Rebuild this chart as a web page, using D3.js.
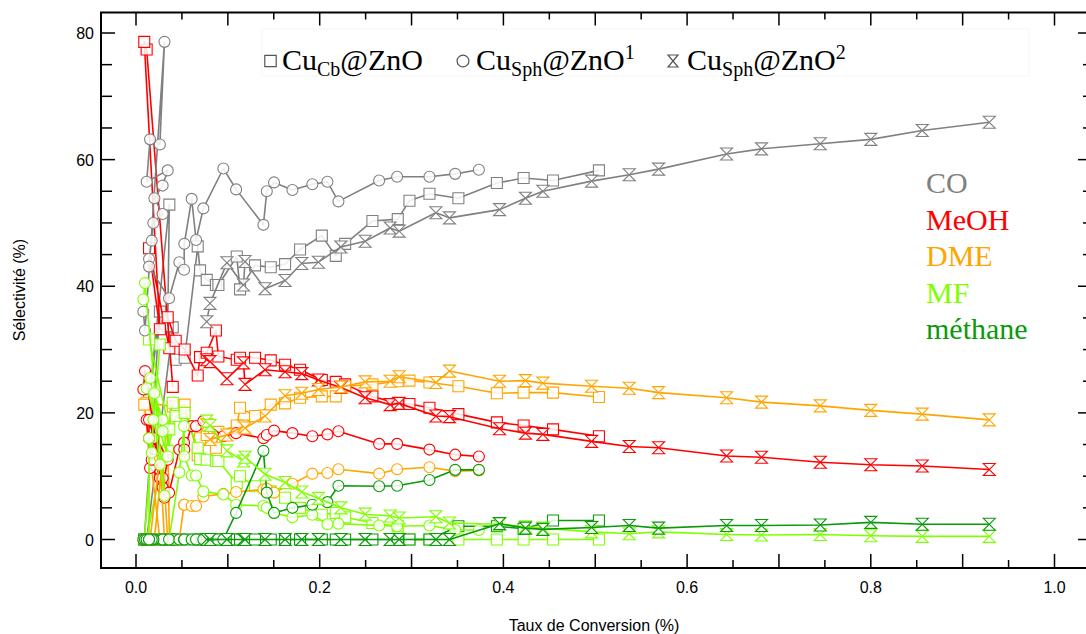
<!DOCTYPE html>
<html><head><meta charset="utf-8">
<script src="https://cdn.jsdelivr.net/npm/d3@7"></script>
<style>body{margin:0;background:#fff}svg{display:block}</style>
</head><body>
<svg id="c" width="1086" height="634"></svg>
<script>
// ---------- data ----------
const xTickValues = [0, 0.2, 0.4, 0.6, 0.8, 1.0];
const xTickLabels = ["0.0", "0.2", "0.4", "0.6", "0.8", "1.0"];
const yTickValues = [0, 20, 40, 60, 80];
const yTickLabels = ["0", "20", "40", "60", "80"];
const products = ["CO", "MeOH", "DME", "MF", "méthane"];
const catalysts = ["Cu_Cb@ZnO", "Cu_Sph@ZnO1", "Cu_Sph@ZnO2"];

// Cu_Cb@ZnO (squares)
const cbX    = [0.0400,0.0116,0.0090,0.0260,0.0142,0.0363,0.0345,0.0432,0.0530,0.0672,0.0697,0.0770,0.0870,0.0897,0.1097,0.1133,0.1296,0.1467,0.1623,0.1786,0.2023,0.2175,0.2277,0.2574,0.2850,0.2977,0.3195,0.3510,0.3929,0.4220,0.4540,0.5040];
const cbCO   = [33.5,0,0,36.0,22.0,52.9,33.7,28.4,28.7,46.3,42.5,41.0,40.2,40.2,44.7,39.5,43.3,43.0,43.5,45.8,48.0,44.8,46.7,50.3,50.6,53.5,54.6,53.9,56.3,57.1,56.7,58.3];
const cbMeOH = [24.1,77.4,78.6,33.2,46.0,30.2,35.1,31.4,30.0,25.9,28.8,29.5,33.0,28.9,28.4,28.7,28.7,28.3,27.6,26.8,25.2,24.9,24.5,22.6,21.5,21.4,20.8,19.8,18.5,18.0,17.4,16.3];
const cbDME  = [21.0,21.6,21.3,0,0,0,17.5,21.0,21.3,13.3,16.0,16.5,14.5,17.0,18.0,20.8,19.5,21.3,21.5,22.4,22.6,22.6,24.2,24.5,25.0,25.1,24.8,24.2,23.1,23.2,23.2,22.5];
const cbMF   = [21.6,0,0,30.8,31.6,17.4,14.0,19.5,20.0,14.5,12.7,12.6,12.4,12.4,8.9,10.0,8.4,7.6,6.6,5.0,3.9,4.2,3.5,2.6,2.1,0,0,0,0,0,0,0];
const cbCH4  = [0,0,0,0,0,0,0,0,0,0,0,0,0,0,0,0,0,0,0,0,0,0,0,0,0,0,0,2.1,2.1,1.7,3.0,3.0];

// Cu_Sph@ZnO 1 (circles)
const s1X    = [0.0080,0.0098,0.0310,0.0260,0.0153,0.0116,0.0345,0.0290,0.0200,0.0290,0.0189,0.0171,0.0142,0.0142,0.0360,0.0472,0.0523,0.0526,0.0606,0.0654,0.0733,0.0951,0.1090,0.1387,0.1424,0.1503,0.1703,0.1920,0.2084,0.2204,0.2647,0.2843,0.3195,0.3475,0.3733];
const s1CO   = [36.0,33.0,78.6,62.4,63.2,56.5,58.3,55.9,53.9,51.4,50.0,47.2,44.3,43.1,38.1,43.8,42.6,46.7,53.8,47.3,52.3,58.6,55.3,49.7,55.0,56.4,55.2,56.1,56.5,53.4,56.7,57.3,57.3,57.75,58.4];
const s1MeOH = [23.7,26.6,6.6,9.7,11.3,18.9,12.6,8.2,12.6,9.7,16.0,12.6,16.0,18.9,7.4,14.2,15.3,14.2,17.9,17.9,18.7,16.3,16.8,16.0,16.5,17.2,16.8,16.3,16.6,17.1,15.1,15.1,14.2,13.4,13.1];
const s1DME  = [0,0,0,13.0,0,0,0,13.0,0,0,0,0,0,0,0,0,5.5,5.5,5.3,5.3,6.8,7.2,7.5,7.9,8.0,7.4,8.8,10.4,10.5,11.1,10.4,11.1,11.4,10.8,10.9];
const s1MF   = [37.9,40.5,6.9,11.8,25.5,23.9,13.1,18.9,23.1,17.1,18.9,13.7,16.0,0,0,10.6,17.9,13.1,10.1,10.1,7.6,7.1,5.5,5.3,5.0,4.2,3.5,3.9,2.4,2.5,2.2,2.1,2.2,1.5,1.5];
const s1CH4  = [0,0,0,0,0,0,0,0,0,0,0,0,0,0,0,0,0,0,0,0,0,0,4.2,14.0,7.4,4.2,5.0,5.5,5.9,8.5,8.4,8.5,9.4,11.0,11.0];

// Cu_Sph@ZnO 2 (hourglasses)
const s2X    = [0.0770,0.0806,0.0990,0.1170,0.1187,0.1405,0.1623,0.1805,0.1986,0.2230,0.2495,0.2767,0.2865,0.3265,0.3413,0.3958,0.4240,0.4430,0.4960,0.5370,0.5690,0.6430,0.6810,0.7450,0.8000,0.8560,0.9290];
const s2CO   = [34.4,37.3,43.7,40.2,43.9,39.6,40.9,43.6,43.8,46.2,47.1,49.2,48.7,51.6,50.8,52.1,53.9,55.0,56.6,57.6,58.5,60.9,61.7,62.5,63.2,64.6,65.9];
const s2MeOH = [28.4,28.1,25.4,27.9,24.5,26.8,26.5,26.2,25.2,24.0,22.4,21.3,21.5,19.5,19.4,17.5,16.8,16.6,15.5,14.7,14.5,13.2,13.0,12.2,11.8,11.6,11.05];
const s2DME  = [18.1,15.8,16.5,17.9,17.6,19.5,22.7,23.1,23.7,24.1,24.9,25.0,25.7,24.8,26.6,25.0,25.1,24.7,24.2,23.9,23.2,22.4,21.7,21.1,20.4,19.8,18.9];
const s2MF   = [18.7,18.0,14.0,12.4,13.0,10.3,9.0,7.5,6.5,5.0,4.0,3.7,3.4,3.6,2.6,2.4,2.0,1.8,1.2,0.9,1.2,0.8,0.7,0.8,0.6,0.5,0.5];
const s2CH4  = [0,0,0,0,0,0,0,0,0,0,0,0,0,0,0,2.5,1.8,1.6,1.9,2.2,1.8,2.2,2.2,2.3,2.7,2.4,2.4];

// ---------- styles ----------
const colors = {CO:"#808080", MeOH:"#ff0000", DME:"#ffa500", MF:"#80ff00", "méthane":"#0a9a0a"};

const seriesList = [
  {cat:0, xs:cbX, sets:[cbCO, cbMeOH, cbDME, cbMF, cbCH4], shape:"square"},
  {cat:1, xs:s1X, sets:[s1CO, s1MeOH, s1DME, s1MF, s1CH4], shape:"circle"},
  {cat:2, xs:s2X, sets:[s2CO, s2MeOH, s2DME, s2MF, s2CH4], shape:"hourglass"}
];

const svg = d3.select("#c");
const x = d3.scaleLinear().domain([0, 1]).range([136, 1054.5]);
const y = d3.scaleLinear().domain([0, 80]).range([539.5, 33]);
const L = 101, R = 1087.5, T = 12.5, B = 568;

function shapePath(shape) {
  if (shape === "square") return d3.symbol(d3.symbolSquare, 121)();
  if (shape === "circle") return d3.symbol(d3.symbolCircle, 95)();
  const w = 6, h = 6;
  return `M${-w},${-h}H${w}L${-w},${h}H${w}Z`;
}

const plot = svg.append("g");
const line = d3.line().x(d => x(d[0])).y(d => y(d[1]));

seriesList.forEach(s => {
  s.sets.forEach((vals, pi) => {
    const col = colors[products[pi]];
    const pts = s.xs.map((xv, i) => [xv, vals[i]]);
    const g = plot.append("g");
    g.append("path").datum(pts).attr("d", line)
      .attr("fill", "none").attr("stroke", col).attr("stroke-width", 1.6)
      .attr("stroke-linejoin", "round");
    g.selectAll("path.m").data(pts).join("path").attr("class", "m")
      .attr("d", shapePath(s.shape))
      .attr("transform", d => `translate(${x(d[0])},${y(d[1])})`)
      .attr("fill", "#fff").attr("fill-opacity", 0.85)
      .attr("stroke", col).attr("stroke-width", 1.1);
  });
});

// ---------- frame & ticks ----------
const ax = svg.append("g").attr("stroke", "#000");
ax.append("rect").attr("x", L).attr("y", T).attr("width", R - L).attr("height", B - T)
  .attr("fill", "none").attr("stroke-width", 2);

const xMinor = d3.range(0, 21).map(i => i * 0.05);
const isTenth = v => Math.abs(v * 10 - Math.round(v * 10)) < 1e-6;
xMinor.forEach(v => {
  const px = x(v);
  ax.append("line").attr("x1", px).attr("x2", px).attr("y1", B).attr("y2", B - (isTenth(v) ? 14 : 8)).attr("stroke-width", 1.5);
  ax.append("line").attr("x1", px).attr("x2", px).attr("y1", T).attr("y2", T + (isTenth(v) ? 13 : 7)).attr("stroke-width", 1.5);
});
const yMinor = d3.range(0, 17).map(i => i * 5);
yMinor.forEach(v => {
  const py = y(v);
  const major = v % 20 === 0;
  ax.append("line").attr("x1", L).attr("x2", L + (major ? 14 : 11)).attr("y1", py).attr("y2", py).attr("stroke-width", 1.5);
  ax.append("line").attr("x1", 1086).attr("x2", 1086 - (major ? 8 : 3)).attr("y1", py).attr("y2", py).attr("stroke-width", 1.5);
});

const lab = svg.append("g").attr("font-family", "'Liberation Sans', Arial, sans-serif").attr("fill", "#000");
xTickValues.forEach((v, i) => {
  lab.append("text").attr("x", x(v)).attr("y", 593).attr("text-anchor", "middle")
    .attr("font-size", 16).text(xTickLabels[i]);
});
yTickValues.forEach((v, i) => {
  lab.append("text").attr("x", 94).attr("y", y(v) + 6).attr("text-anchor", "end")
    .attr("font-size", 16).text(yTickLabels[i]);
});
lab.append("text").attr("x", 594).attr("y", 631).attr("text-anchor", "middle")
  .attr("font-size", 16).text("Taux de Conversion (%)");
lab.append("text").attr("transform", "translate(25,290) rotate(-90)").attr("text-anchor", "middle")
  .attr("font-size", 16).text("Sélectivité (%)");

// ---------- legend ----------
const lg = svg.append("g").attr("font-family", "'Liberation Serif', 'Times New Roman', serif").attr("fill", "#000");
lg.append("rect").attr("x", 262).attr("y", 29).attr("width", 767).attr("height", 47)
  .attr("fill", "none").attr("stroke", "#f5f5f5");
const legendItems = [
  {shape:"square", sx:270.5, tx:282, main:"Cu", sub:"Cb", rest:"@ZnO", sup:""},
  {shape:"circle", sx:463, tx:476, main:"Cu", sub:"Sph", rest:"@ZnO", sup:"1"},
  {shape:"hourglass", sx:673, tx:687, main:"Cu", sub:"Sph", rest:"@ZnO", sup:"2"}
];
legendItems.forEach(it => {
  const sym = it.shape === "circle" ? d3.symbol(d3.symbolCircle, 110)() :
              it.shape === "square" ? d3.symbol(d3.symbolSquare, 130)() : "M-5,-6H5L-5,6H5Z";
  lg.append("path").attr("d", sym).attr("transform", `translate(${it.sx},61)`)
    .attr("fill", "none").attr("stroke", "#555").attr("stroke-width", 1.2);
  const t = lg.append("text").attr("x", it.tx).attr("y", 70).attr("font-size", 30);
  t.append("tspan").text(it.main);
  t.append("tspan").attr("font-size", 20).attr("dy", 6).text(it.sub);
  t.append("tspan").attr("dy", -6).text(it.rest);
  if (it.sup) t.append("tspan").attr("font-size", 20).attr("dy", -11).text(it.sup);
});

// product labels
products.forEach((p, i) => {
  lg.append("text").attr("x", 926).attr("y", 193 + i * 36.5).attr("font-size", 30)
    .attr("fill", colors[p]).text(p);
});
</script>
</body></html>
